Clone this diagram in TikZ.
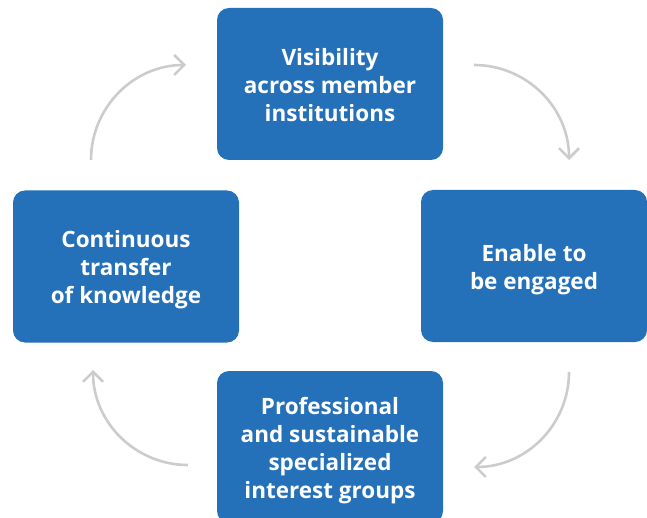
\documentclass[tikz,border=0pt]{standalone}
\usepackage{fontspec}
\setmainfont{Open Sans}
\usetikzlibrary{arrows.meta}
\definecolor{boxblue}{RGB}{36,112,185}
\definecolor{arrgray}{RGB}{204,204,204}
\begin{document}
\begin{tikzpicture}[x=1pt,y=-1pt,
  card/.style={fill=boxblue, rounded corners=12pt, minimum width=226pt, minimum height=152pt, inner sep=0pt},
  cardtext/.style={inner sep=0pt, align=center, text=white, font=\fontsize{22.5}{28}\selectfont\bfseries},
  arr/.style={draw=arrgray, line width=2.6pt, -{Straight Barb[length=10pt, width=20pt, line width=2.6pt]}}]
\useasboundingbox (0,0) rectangle (647,518);
\begin{scope}
\clip (0,0) rectangle (647,518);
\node[card] (top) at (330,84) {};
\node[card] (right) at (534,266) {};
\node[card] (left) at (126,266.5) {};
\node[card] (bottom) at (330,447) {};
\end{scope}
\node[cardtext] (topt) at ([yshift=-1.5pt]top.center) {Visibility\\across member\\institutions};
\node[cardtext] (rightt) at ([yshift=-3.5pt]right.center) {Enable to\\be engaged};
\node[cardtext] (leftt) at ([yshift=-3pt]left.center) {Continuous\\transfer\\of knowledge};
\node[cardtext] (bottomt) at ([yshift=-3.5pt]bottom.center) {Professional\\and sustainable\\specialized\\interest groups};
\coordinate (s1) at (474,65);
\coordinate (s2) at (569,372);
\coordinate (s3) at (188,465);
\coordinate (s4) at (91,160);
\draw[arr] (s1) arc[start angle=-90, end angle=0, radius=95];
\draw[arr] (s2) arc[start angle=0, end angle=90, radius=95];
\draw[arr] (s3) arc[start angle=90, end angle=180, radius=95];
\draw[arr] (s4) arc[start angle=180, end angle=270, radius=95];
\end{tikzpicture}
\end{document}
